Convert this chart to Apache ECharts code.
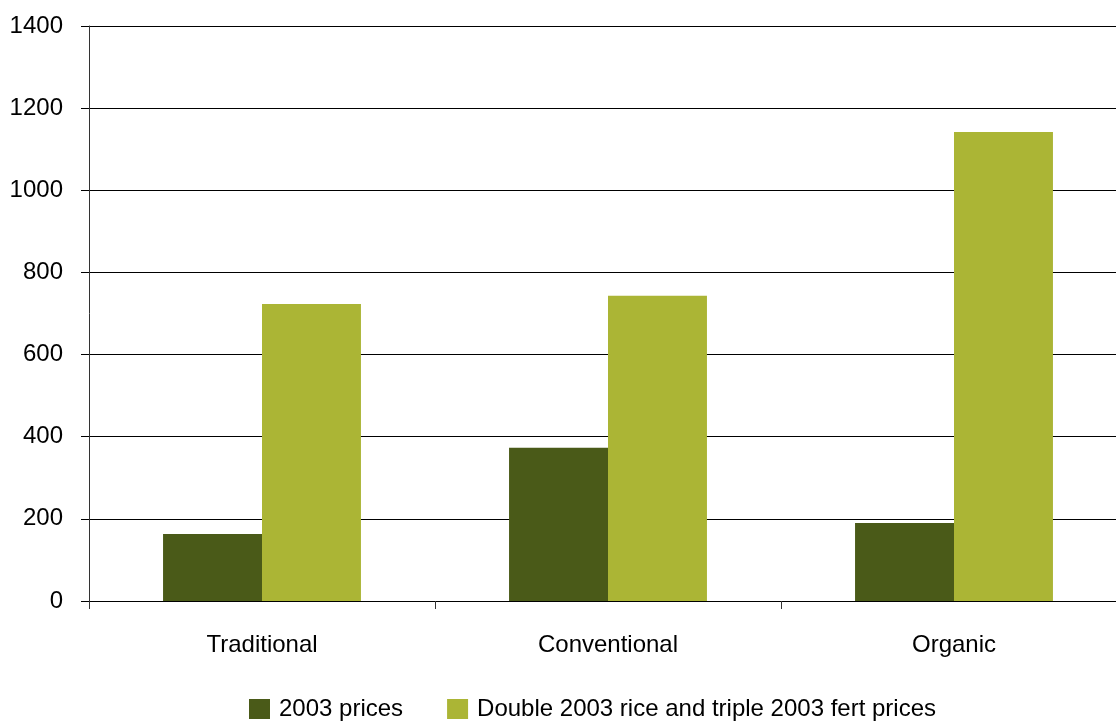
<!DOCTYPE html>
<html><head><meta charset="utf-8">
<script src="https://cdn.jsdelivr.net/npm/echarts@6/dist/echarts.min.js"></script>
<style>html,body{margin:0;padding:0;background:#fff}#c{width:1116px;height:727px}</style>
</head><body><div id="c"></div>
<script>
var categories = ['Traditional', 'Conventional', 'Organic'];
var seriesNames = ['2003 prices', 'Double 2003 rice and triple 2003 fert prices'];
var prices2003 = [163, 373, 190];
var doublePrices = [723, 743, 1142];
var yTicks = {min: 0, max: 1400, interval: 200};

var chart = echarts.init(document.getElementById('c'), null, {renderer: 'canvas'});
var font = '"Liberation Sans", Arial, Helvetica, sans-serif';
chart.setOption({
  animation: false,
  textStyle: {fontFamily: font},
  grid: {left: 89, right: -11, top: 26, bottom: 126, containLabel: false, outerBoundsMode: 'none'},
  legend: {
    top: 697, left: 249, itemWidth: 21, itemHeight: 20, itemGap: 44,
    icon: 'rect', padding: 0,
    textStyle: {fontSize: 24, color: '#000', fontFamily: font, padding: [0, 0, 0, 4]},
    data: seriesNames
  },
  xAxis: {
    type: 'category', data: categories,
    axisLine: {lineStyle: {color: '#000', width: 1}},
    axisTick: {show: true, length: 8, inside: false, lineStyle: {color: '#333'}},
    axisLabel: {fontSize: 24, color: '#000', margin: 32, fontFamily: font}
  },
  yAxis: {
    type: 'value', min: yTicks.min, max: yTicks.max, interval: yTicks.interval,
    axisLine: {show: true, lineStyle: {color: '#333', width: 1}},
    axisTick: {show: true, length: 8, lineStyle: {color: '#000'}},
    axisLabel: {fontSize: 24, color: '#000', margin: 26, fontFamily: font,
                formatter: function (v) { return String(v); }},
    splitLine: {show: true, lineStyle: {color: '#000', width: 1}}
  },
  series: [
    {name: seriesNames[0], type: 'bar', data: prices2003, barGap: '0%', barCategoryGap: '42.8%',
     itemStyle: {color: '#4a5a18'}},
    {name: seriesNames[1], type: 'bar', data: doublePrices, barGap: '0%', barCategoryGap: '42.8%',
     itemStyle: {color: '#abb535'}}
  ]
});
</script></body></html>
